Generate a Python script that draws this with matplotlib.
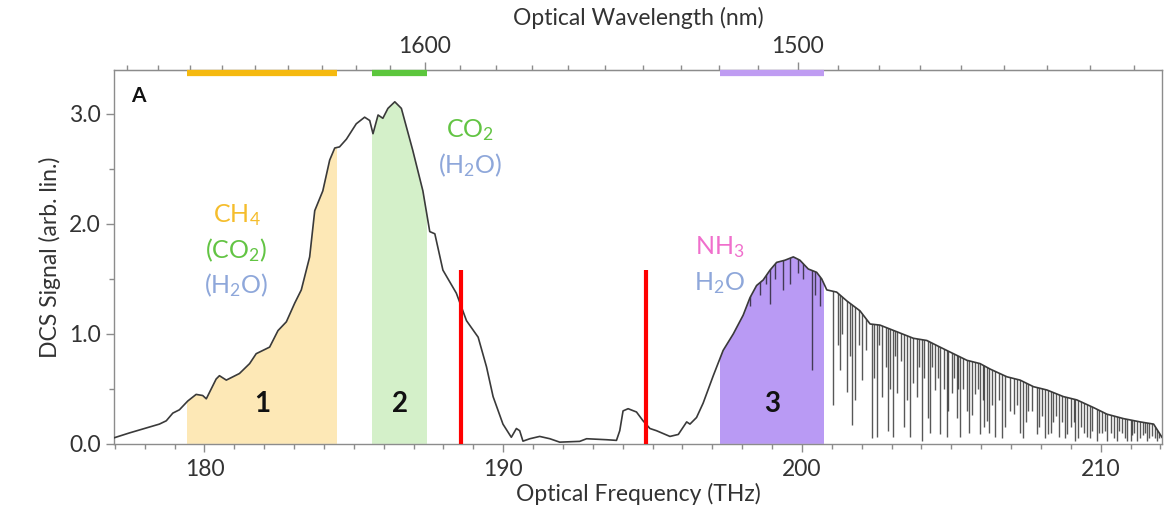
import numpy as np
import matplotlib
matplotlib.use("Agg")
import matplotlib.pyplot as plt
from matplotlib.ticker import MultipleLocator, FixedLocator, NullFormatter, FormatStrFormatter

# ---------------- data ----------------
freq = [176.98, 177.49, 177.99, 178.49, 178.72, 178.94, 179.16, 179.44, 179.72, 179.94,
        180.06, 180.39, 180.50, 180.73, 181.17, 181.51, 181.73, 182.18, 182.46, 182.74,
        183.02, 183.24, 183.52, 183.69, 183.96, 184.19, 184.36, 184.52, 184.75, 185.08,
        185.36, 185.53, 185.64, 185.81, 185.97, 186.14, 186.37, 186.59, 186.97, 187.31,
        187.54, 187.71, 187.98, 188.43, 188.77, 189.16, 189.44, 189.66, 189.99, 190.27,
        190.44, 190.55, 190.66, 190.89, 191.22, 191.56, 191.89, 192.56, 192.79, 193.46,
        193.79, 193.90, 194.01, 194.18, 194.46, 194.68, 194.91, 195.13, 195.58, 195.86,
        196.14, 196.25, 196.47, 196.69, 197.03, 197.36, 197.70, 198.03, 198.26, 198.48,
        198.70, 198.93, 199.15, 199.43, 199.71, 199.93, 200.21, 200.49, 200.66, 200.83,
        201.16, 201.50, 201.94, 202.28, 202.61, 203.17, 203.73, 204.18, 204.62, 205.07,
        205.52, 205.96, 206.30, 206.86, 207.30, 207.75, 208.20, 208.75, 209.20, 209.76,
        210.21, 210.76, 211.32, 211.77, 212.05]
signal = [0.056, 0.10, 0.14, 0.18, 0.21, 0.28, 0.31, 0.39, 0.45, 0.44,
          0.41, 0.59, 0.62, 0.58, 0.64, 0.73, 0.82, 0.88, 1.03, 1.11,
          1.28, 1.40, 1.70, 2.12, 2.30, 2.58, 2.69, 2.70, 2.77, 2.91,
          2.97, 2.94, 2.82, 2.99, 2.96, 3.05, 3.11, 3.05, 2.67, 2.30,
          1.93, 1.91, 1.58, 1.37, 1.12, 0.97, 0.70, 0.43, 0.18, 0.06,
          0.14, 0.12, 0.025, 0.047, 0.068, 0.047, 0.016, 0.023, 0.047, 0.038,
          0.032, 0.12, 0.30, 0.32, 0.29, 0.21, 0.14, 0.12, 0.068, 0.086,
          0.20, 0.18, 0.24, 0.37, 0.62, 0.85, 1.00, 1.17, 1.33, 1.44,
          1.49, 1.58, 1.65, 1.67, 1.70, 1.67, 1.59, 1.56, 1.50, 1.40,
          1.38, 1.30, 1.21, 1.09, 1.08, 1.02, 0.96, 0.94, 0.88, 0.82,
          0.76, 0.73, 0.68, 0.61, 0.58, 0.52, 0.49, 0.43, 0.40, 0.33,
          0.27, 0.23, 0.20, 0.18, 0.06]

# absorption lines: centre frequency (THz) and bottom of the dip
line_freq = [198.59, 198.93, 199.37, 199.60, 200.33, 200.43, 200.60, 201.05,
             201.28, 201.35, 201.50, 201.67, 201.78, 201.90, 202.00, 202.15, 202.33,
             202.52, 202.67, 202.80, 202.89, 203.04, 203.19, 203.30, 203.42, 203.62,
             203.70, 203.84, 204.01, 204.10, 204.23, 204.35, 204.46, 204.62, 204.75,
             204.85, 205.01, 205.10, 205.18, 205.29, 205.40, 205.52, 205.68, 205.80,
             205.96, 206.05, 206.19, 206.35, 206.47, 206.60, 206.69, 207.08, 207.20,
             207.41, 207.58, 207.70, 207.86, 208.05, 208.25, 208.40, 208.59, 208.70,
             208.87, 209.00, 209.15, 209.35, 209.54, 209.70, 209.87, 210.05, 210.21,
             210.35, 210.54, 210.70, 210.88, 211.05, 211.21, 211.40, 211.55, 211.70,
             211.88,
             198.25, 198.80, 199.10, 199.85, 200.05, 201.20, 201.60, 202.40, 202.58,
             202.95, 203.10, 203.50, 203.90, 204.30, 204.55, 204.90, 205.23, 205.60,
             205.90, 206.10, 206.25, 206.80, 206.95, 207.30, 207.50, 207.95, 208.15,
             208.35, 208.50, 208.80, 209.10, 209.25, 209.45, 209.65, 209.95, 210.15,
             210.45, 210.62, 210.80, 211.00, 211.12, 211.30, 211.48, 211.62, 211.80,
             211.95]
line_min = [1.35, 1.27, 1.40, 1.45, 0.67, 1.35, 1.25, 0.35,
            0.67, 1.00, 0.47, 0.17, 0.40, 0.90, 0.58, 0.85, 0.05,
            0.06, 0.43, 0.70, 0.12, 0.06, 0.46, 0.75, 0.15, 0.06,
            0.55, 0.43, 0.03, 0.60, 0.24, 0.70, 0.49, 0.09, 0.50,
            0.06, 0.46, 0.60, 0.24, 0.06, 0.50, 0.30, 0.26, 0.45,
            0.09, 0.40, 0.21, 0.35, 0.06, 0.40, 0.05, 0.27, 0.35,
            0.05, 0.30, 0.30, 0.09, 0.25, 0.09, 0.20, 0.06, 0.20,
            0.09, 0.15, 0.03, 0.15, 0.06, 0.12, 0.03, 0.10, 0.03,
            0.10, 0.03, 0.10, 0.03, 0.08, 0.03, 0.08, 0.03, 0.07,
            0.03,
            1.25, 1.45, 1.50, 1.55, 1.50, 0.90, 0.80, 0.60, 0.90,
            0.50, 0.80, 0.40, 0.70, 0.10, 0.60, 0.30, 0.50, 0.10,
            0.50, 0.15, 0.10, 0.15, 0.30, 0.10, 0.20, 0.15, 0.05,
            0.10, 0.25, 0.05, 0.20, 0.05, 0.10, 0.05, 0.10, 0.12,
            0.05, 0.12, 0.05, 0.03, 0.10, 0.05, 0.10, 0.05, 0.05,
            0.05]

band_lo = [179.43, 185.62, 197.25]
band_hi = [184.43, 187.46, 200.74]
band_names = ["1", "2", "3"]
band_fill = ["#fde8b6", "#d4f0c9", "#b99af4"]
band_bar = ["#f5b90f", "#5cc63d", "#bf9cf2"]

red_freq = [188.57, 194.77]
red_top = 1.58

C_NM_THZ = 299792.458
wl_major = [1500, 1600]

# ---------------- style ----------------
plt.rcParams["font.family"] = ["Lato", "DejaVu Sans"]
plt.rcParams["mathtext.fontset"] = "custom"
plt.rcParams["mathtext.rm"] = "Lato"
plt.rcParams["mathtext.it"] = "Lato:italic"
plt.rcParams["mathtext.bf"] = "Lato:bold"

TXT = "#333333"
SPINE = "#8c8c8c"
FS = 16.5
AFS = 18

fig = plt.figure(figsize=(11.69, 5.12), dpi=100)
ax = fig.add_axes([0.0975, 0.133, 0.8965, 0.7305])
ax.set_xlim(176.97, 212.05)
ax.set_ylim(0, 3.4)

# envelope polygon used to clip coloured bands and absorption lines
env_poly = ax.fill_between(freq, 0, signal, color="none", lw=0, zorder=0)
clip_path = env_poly.get_paths()[0]

for lo, hi, c in zip(band_lo, band_hi, band_fill):
    sp = ax.axvspan(lo, hi, color=c, lw=0, zorder=1)
    sp.set_clip_path(clip_path, ax.transData)

vl = ax.vlines(line_freq, line_min, 3.4, colors="#111111", lw=1.0, alpha=0.7, zorder=2)
vl.set_clip_path(clip_path, ax.transData)

ax.plot(freq, signal, color="#3a3a3a", lw=1.2, zorder=3)

ax.vlines(red_freq, 0, red_top, colors="#ff0000", lw=3.0, zorder=4)

# coloured bars along the top
ax.hlines([0.991] * 3, band_lo, band_hi, colors=band_bar, lw=4.5,
          transform=ax.get_xaxis_transform(), clip_on=False, zorder=5)

# band numbers
for lo, hi, n in zip(band_lo, band_hi, band_names):
    ax.text((lo + hi) / 2, 0.36, n, ha="center", va="center", fontsize=20,
            fontweight="bold", color="#111111", zorder=6)

# species annotations
ORANGE, GREEN, BLUE, PINK = "#f5bd2c", "#62c443", "#8ea7da", "#f06fcc"
ax.text(181.07, 2.08, r"CH$_\mathrm{4}$", color=ORANGE, ha="center", va="center", fontsize=AFS)
ax.text(181.07, 1.76, r"(CO$_\mathrm{2}$)", color=GREEN, ha="center", va="center", fontsize=AFS)
ax.text(181.07, 1.44, r"(H$_\mathrm{2}$O)", color=BLUE, ha="center", va="center", fontsize=AFS)
ax.text(188.88, 2.85, r"CO$_\mathrm{2}$", color=GREEN, ha="center", va="center", fontsize=AFS)
ax.text(188.88, 2.53, r"(H$_\mathrm{2}$O)", color=BLUE, ha="center", va="center", fontsize=AFS)
ax.text(197.25, 1.79, r"NH$_\mathrm{3}$", color=PINK, ha="center", va="center", fontsize=AFS)
ax.text(197.25, 1.46, r"H$_\mathrm{2}$O", color=BLUE, ha="center", va="center", fontsize=AFS)

ax.text(0.016, 0.93, "A", transform=ax.transAxes, fontsize=15, fontweight="bold",
        color="#111111", ha="left", va="center")

# axes styling
for s in ax.spines.values():
    s.set_color(SPINE)
    s.set_linewidth(1.0)

ax.xaxis.set_major_locator(MultipleLocator(10))
ax.xaxis.set_minor_locator(MultipleLocator(1))
ax.yaxis.set_major_locator(MultipleLocator(1))
ax.yaxis.set_minor_locator(MultipleLocator(0.5))
ax.yaxis.set_major_formatter(FormatStrFormatter("%.1f"))
ax.tick_params(which="both", direction="out", color=SPINE, width=1.0, labelcolor=TXT,
               labelsize=FS)
ax.tick_params(which="major", length=6)
ax.tick_params(which="minor", length=3.5)
ax.tick_params(axis="x", pad=5)

ax.set_xlabel("Optical Frequency (THz)", fontsize=FS, color=TXT, labelpad=2)
ax.set_ylabel("DCS Signal (arb. lin.)", fontsize=FS, color=TXT, labelpad=6)

sec = ax.secondary_xaxis("top", functions=(lambda f: C_NM_THZ / np.asarray(f, float),
                                           lambda w: C_NM_THZ / np.asarray(w, float)))
sec.xaxis.set_major_locator(FixedLocator(wl_major))
sec.xaxis.set_minor_locator(MultipleLocator(10))
sec.xaxis.set_minor_formatter(NullFormatter())
sec.tick_params(which="both", direction="out", color=SPINE, width=1.0, labelcolor=TXT,
                labelsize=FS)
sec.tick_params(which="major", length=6)
sec.tick_params(which="minor", length=3.5)
sec.tick_params(axis="x", pad=3)
sec.spines["top"].set_color(SPINE)
sec.set_xlabel("Optical Wavelength (nm)", fontsize=FS, color=TXT, labelpad=8)

fig.savefig("out.png", dpi=100)
